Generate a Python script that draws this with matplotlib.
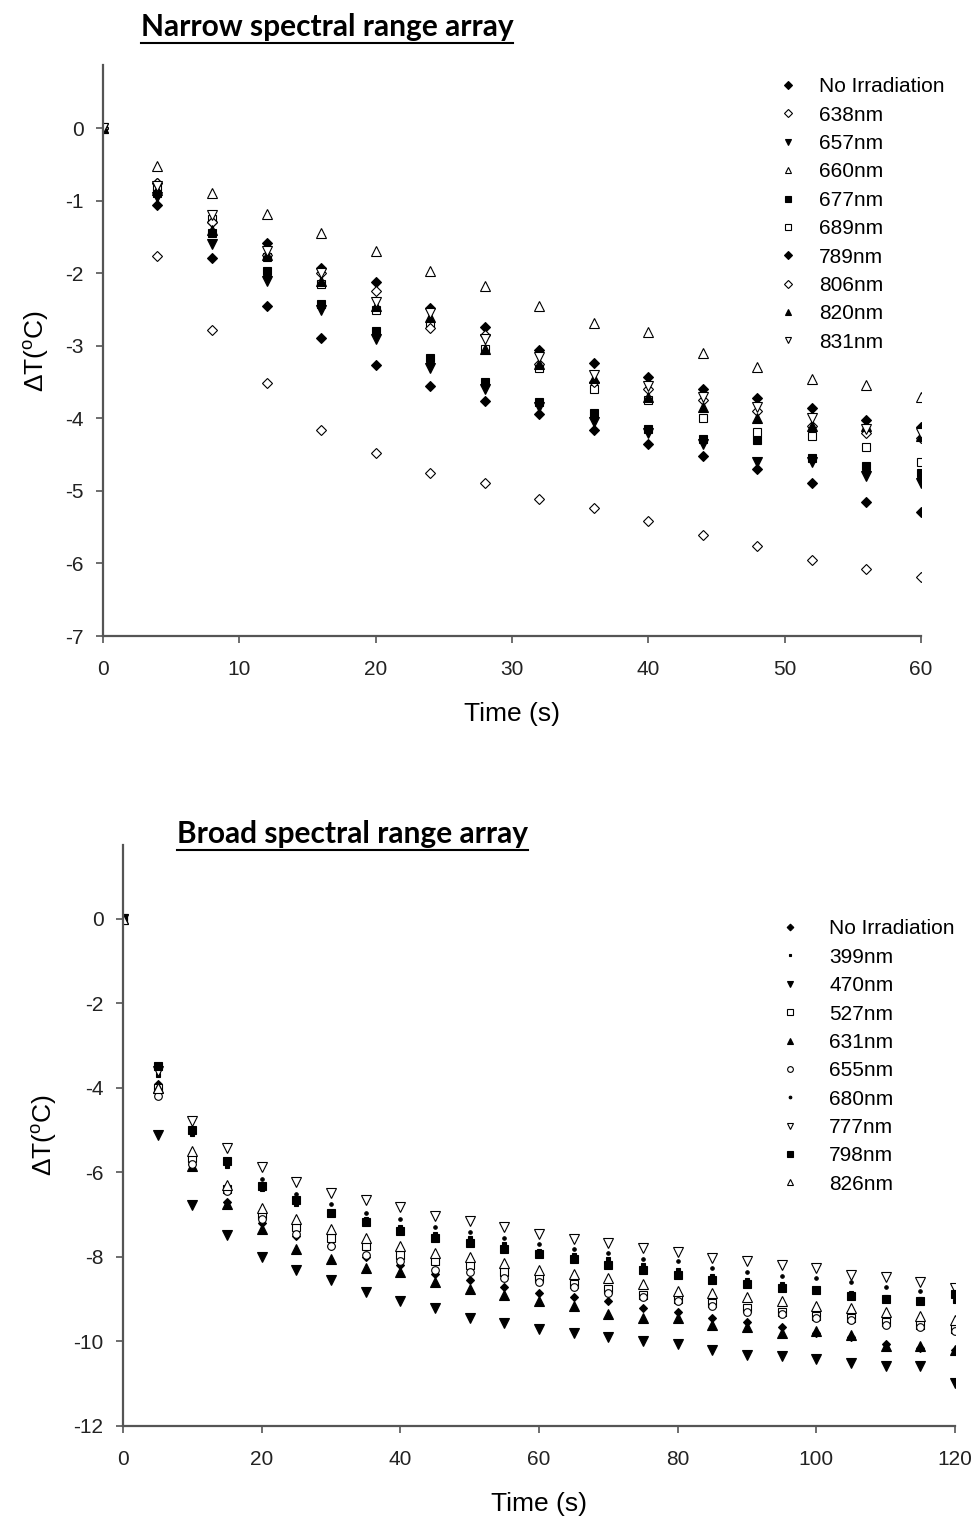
import numpy as np
import matplotlib
matplotlib.use("Agg")
import matplotlib.pyplot as plt
from matplotlib.lines import Line2D

plt.rcParams['font.family'] = ['Liberation Sans', 'DejaVu Sans']
plt.rcParams['mathtext.fontset'] = 'custom'
plt.rcParams['mathtext.rm'] = 'Liberation Sans'
plt.rcParams['mathtext.it'] = 'Liberation Sans:italic'
plt.rcParams['axes.unicode_minus'] = False

# ---------------- narrow spectral range array ----------------
narrow_time = [0, 4, 8, 12, 16, 20, 24, 28, 32, 36, 40, 44, 48, 52, 56, 60]
narrow_labels = ["No Irradiation", "638nm", "657nm", "660nm", "677nm",
                 "689nm", "789nm", "806nm", "820nm", "831nm"]
narrow_no_irr = [0, -1.06, -1.79, -2.45, -2.89, -3.26, -3.55, -3.76, -3.94, -4.16, -4.35, -4.52, -4.70, -4.89, -5.15, -5.29]
narrow_638 = [0, -1.76, -2.78, -3.51, -4.16, -4.48, -4.75, -4.89, -5.11, -5.23, -5.41, -5.61, -5.76, -5.95, -6.07, -6.18]
narrow_657 = [0, -0.95, -1.60, -2.10, -2.50, -2.90, -3.30, -3.60, -3.85, -4.05, -4.20, -4.35, -4.60, -4.60, -4.80, -4.89]
narrow_660 = [0, -0.52, -0.90, -1.18, -1.45, -1.69, -1.97, -2.18, -2.45, -2.69, -2.81, -3.10, -3.29, -3.46, -3.54, -3.71]
narrow_677 = [0, -0.90, -1.45, -1.97, -2.42, -2.80, -3.17, -3.50, -3.77, -3.92, -4.15, -4.28, -4.30, -4.55, -4.65, -4.75]
narrow_689 = [0, -0.80, -1.25, -1.78, -2.15, -2.50, -2.70, -3.05, -3.30, -3.60, -3.75, -4.00, -4.19, -4.25, -4.40, -4.60]
narrow_789 = [0, -0.75, -1.30, -1.58, -1.93, -2.12, -2.48, -2.74, -3.06, -3.24, -3.43, -3.60, -3.72, -3.86, -4.02, -4.12]
narrow_806 = [0, -0.75, -1.30, -1.75, -2.00, -2.25, -2.75, -2.85, -3.25, -3.50, -3.60, -3.75, -3.90, -4.10, -4.20, -4.27]
narrow_820 = [0, -0.85, -1.40, -1.75, -2.10, -2.45, -2.60, -3.05, -3.25, -3.45, -3.70, -3.85, -4.00, -4.10, -4.10, -4.25]
narrow_831 = [0, -0.80, -1.20, -1.70, -2.00, -2.40, -2.55, -2.90, -3.15, -3.40, -3.55, -3.70, -3.85, -4.00, -4.15, -4.20]
narrow_series = [narrow_no_irr, narrow_638, narrow_657, narrow_660, narrow_677,
                 narrow_689, narrow_789, narrow_806, narrow_820, narrow_831]

# ---------------- broad spectral range array ----------------
broad_time = list(range(0, 121, 5))
broad_labels = ["No Irradiation", "399nm", "470nm", "527nm", "631nm",
                "655nm", "680nm", "777nm", "798nm", "826nm"]
broad_no_irr = [0, -3.90, -5.80, -6.70, -7.20, -7.50, -7.75, -8.00, -8.20, -8.40, -8.55, -8.70, -8.85,
                -8.95, -9.05, -9.20, -9.30, -9.45, -9.55, -9.65, -9.80, -9.90, -10.05, -10.15, -10.20]
broad_399 = [0, -3.70, -5.10, -5.85, -6.40, -6.75, -6.95, -7.10, -7.30, -7.45, -7.55, -7.70, -7.85,
             -7.95, -8.05, -8.20, -8.30, -8.45, -8.55, -8.65, -8.75, -8.85, -8.95, -9.00, -9.05]
broad_470 = [0, -5.11, -6.77, -7.48, -8.00, -8.31, -8.54, -8.83, -9.04, -9.20, -9.44, -9.56, -9.70,
             -9.80, -9.90, -9.99, -10.06, -10.20, -10.32, -10.34, -10.41, -10.50, -10.58, -10.58, -10.98]
broad_527 = [0, -4.00, -5.65, -6.40, -7.00, -7.30, -7.55, -7.75, -7.95, -8.10, -8.20, -8.35, -8.50,
             -8.65, -8.75, -8.90, -9.00, -9.10, -9.20, -9.30, -9.40, -9.45, -9.55, -9.60, -9.70]
broad_631 = [0, -4.00, -5.85, -6.75, -7.35, -7.80, -8.05, -8.25, -8.35, -8.60, -8.75, -8.90, -9.05,
             -9.15, -9.35, -9.45, -9.45, -9.60, -9.65, -9.80, -9.75, -9.85, -10.10, -10.10, -10.20]
broad_655 = [0, -4.20, -5.80, -6.45, -7.10, -7.45, -7.75, -7.95, -8.10, -8.30, -8.35, -8.50, -8.60,
             -8.70, -8.85, -8.95, -9.05, -9.15, -9.30, -9.35, -9.45, -9.50, -9.60, -9.65, -9.75]
broad_680 = [0, -3.60, -5.05, -5.70, -6.15, -6.50, -6.75, -6.95, -7.10, -7.30, -7.40, -7.55, -7.70,
             -7.80, -7.90, -8.05, -8.10, -8.25, -8.35, -8.45, -8.50, -8.60, -8.70, -8.80, -8.85]
broad_777 = [0, -3.60, -4.78, -5.42, -5.87, -6.22, -6.48, -6.65, -6.82, -7.03, -7.15, -7.29, -7.46,
             -7.57, -7.67, -7.79, -7.88, -8.02, -8.09, -8.19, -8.26, -8.43, -8.47, -8.59, -8.73]
broad_798 = [0, -3.48, -4.99, -5.73, -6.32, -6.65, -6.96, -7.17, -7.38, -7.55, -7.67, -7.81, -7.93,
             -8.05, -8.19, -8.31, -8.43, -8.54, -8.64, -8.73, -8.78, -8.92, -8.99, -9.04, -8.88]
broad_826 = [0, -4.00, -5.50, -6.30, -6.85, -7.10, -7.35, -7.55, -7.75, -7.90, -8.00, -8.15, -8.30,
             -8.40, -8.50, -8.65, -8.80, -8.85, -8.95, -9.05, -9.15, -9.20, -9.30, -9.40, -9.50]
broad_series = [broad_no_irr, broad_399, broad_470, broad_527, broad_631,
                broad_655, broad_680, broad_777, broad_798, broad_826]

# marker styles: (marker, filled, size)
narrow_styles = [("D", True, 5), ("D", False, 5), ("v", True, 6.5), ("^", False, 6.5), ("s", True, 5.5),
                 ("s", False, 5.5), ("D", True, 5.5), ("D", False, 5.5), ("^", True, 6.5), ("v", False, 6.5)]
broad_styles = [("D", True, 4.5), ("s", True, 2.5), ("v", True, 6.5), ("s", False, 5.5), ("^", True, 6.5),
                ("o", False, 5.5), ("o", True, 2.5), ("v", False, 6.5), ("s", True, 5.5), ("^", False, 6.5)]


def draw_panel(ax, times, series, labels, styles):
    for vals, lab, (m, filled, ms) in zip(series, labels, styles):
        ax.plot(times, vals, linestyle="none", marker=m, markersize=ms,
                markerfacecolor="black" if filled else "white",
                markeredgecolor="black", markeredgewidth=0.8, label=lab)
    for s in ["top", "right"]:
        ax.spines[s].set_visible(False)
    for s in ["left", "bottom"]:
        ax.spines[s].set_color("#555555")
        ax.spines[s].set_linewidth(1.6)
    ax.tick_params(direction="out", length=5, width=1.2, color="#555555",
                   labelsize=15, labelcolor="#222222", pad=9)
    ax.tick_params(axis="x", pad=12)
    ax.set_xlabel("Time (s)", fontsize=19, labelpad=17)
    ax.set_ylabel(r"$\Delta$T($^{\mathrm{o}}$C)", fontsize=19, labelpad=10)


def underline_title(fig, text, x, y):
    t = fig.text(x, y, text, fontsize=21.5, fontweight="bold", family=["Lato", "DejaVu Sans"],
                 ha="center", va="center", color="black")
    fig.canvas.draw()
    bb = t.get_window_extent().transformed(fig.transFigure.inverted())
    fig.add_artist(Line2D([bb.x0, bb.x1], [bb.y0 - 0.001, bb.y0 - 0.001],
                          color="black", linewidth=1.5, transform=fig.transFigure))


fig = plt.figure(figsize=(9.76, 15.23), dpi=100)

ax1 = fig.add_axes([0.1055, 0.5824, 0.838, 0.3749])
draw_panel(ax1, narrow_time, narrow_series, narrow_labels, narrow_styles)
ax1.set_xlim(0, 60)
ax1.set_ylim(-7, 0.87)
ax1.set_xticks(range(0, 61, 10))
ax1.set_yticks(range(-7, 1))
ax1.legend(loc="upper left", bbox_to_anchor=(0.788, 0.9547), bbox_transform=fig.transFigure,
           frameon=False, fontsize=15, handlelength=1.0, handletextpad=1.0,
           labelspacing=0.45, borderaxespad=0, markerscale=0.75)

ax2 = fig.add_axes([0.126, 0.0637, 0.8525, 0.3815])
draw_panel(ax2, broad_time, broad_series, broad_labels, broad_styles)
ax2.set_xlim(0, 120)
ax2.set_ylim(-12, 1.75)
ax2.set_xticks(range(0, 121, 20))
ax2.set_yticks(range(-12, 1, 2))
ax2.legend(loc="upper left", bbox_to_anchor=(0.79, 0.4018), bbox_transform=fig.transFigure,
           frameon=False, fontsize=15, handlelength=1.0, handletextpad=1.4,
           labelspacing=0.45, borderaxespad=0, markerscale=0.75)

underline_title(fig, "Narrow spectral range array", 0.335, 1 - 27 / 1523)
underline_title(fig, "Broad spectral range array", 0.361, 1 - 834 / 1523)

fig.savefig("out.png", dpi=100)
plt.close()
